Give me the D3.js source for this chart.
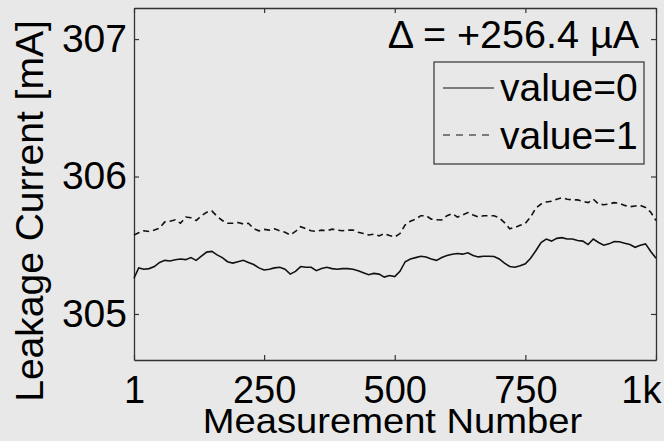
<!DOCTYPE html>
<html>
<head>
<meta charset="utf-8">
<script src="https://cdn.jsdelivr.net/npm/d3@7"></script>
<style>
  html, body { margin: 0; padding: 0; background: #e8e8e8; }
  svg { display: block; }
  text { font-family: "Liberation Sans", Arial, sans-serif; fill: #000; }
</style>
</head>
<body>
<svg id="chart" width="664" height="441"></svg>
<script>
// ---- data ----
const measurements = [1,10,20,30,40,50,60,70,80,90,100,110,120,130,140,150,160,170,180,190,200,210,220,230,240,250,260,270,280,290,300,310,320,330,340,350,360,370,380,390,400,410,420,430,440,450,460,470,480,490,500,510,520,530,540,550,560,570,580,590,600,610,620,630,640,650,660,670,680,690,700,710,720,730,740,750,760,770,780,790,800,810,820,830,840,850,860,870,880,890,900,910,920,930,940,950,960,970,980,990,1000];

const value0 = [305.26,305.335,305.325,305.33,305.345,305.375,305.39,305.385,305.395,305.40,305.395,305.41,305.39,305.42,305.45,305.455,305.43,305.41,305.38,305.37,305.38,305.39,305.375,305.36,305.335,305.32,305.325,305.335,305.34,305.325,305.29,305.31,305.345,305.34,305.34,305.315,305.33,305.34,305.33,305.325,305.33,305.33,305.325,305.315,305.30,305.285,305.295,305.29,305.268,305.28,305.272,305.31,305.38,305.40,305.41,305.42,305.415,305.40,305.39,305.41,305.425,305.435,305.44,305.435,305.445,305.425,305.415,305.42,305.42,305.418,305.40,305.37,305.345,305.34,305.35,305.365,305.405,305.46,305.52,305.545,305.53,305.55,305.555,305.545,305.545,305.535,305.53,305.505,305.545,305.52,305.50,305.51,305.527,305.525,305.515,305.505,305.485,305.50,305.51,305.455,305.405];

const value1 = [305.575,305.59,305.605,305.60,305.61,305.625,305.67,305.675,305.685,305.66,305.705,305.70,305.68,305.715,305.74,305.75,305.71,305.68,305.66,305.66,305.665,305.655,305.66,305.62,305.605,305.615,305.61,305.62,305.605,305.595,305.575,305.60,305.635,305.62,305.605,305.60,305.61,305.605,305.617,305.61,305.605,305.61,305.61,305.595,305.585,305.575,305.58,305.568,305.585,305.57,305.56,305.585,305.648,305.675,305.69,305.715,305.715,305.69,305.685,305.684,305.715,305.73,305.705,305.72,305.738,305.72,305.705,305.715,305.714,305.714,305.70,305.665,305.62,305.63,305.645,305.66,305.705,305.77,305.80,305.815,305.82,305.835,305.845,305.835,305.83,305.83,305.82,305.81,305.835,305.80,305.795,305.80,305.81,305.805,305.79,305.78,305.785,305.79,305.775,305.74,305.68];

const xTicks = [1, 250, 500, 750, 1000];
const xTickLabels = ["1", "250", "500", "750", "1k"];
const yTicks = [305, 306, 307];
const seriesNames = ["value=0", "value=1"];
const annotation = "\u0394 = +256.4 \u00B5A";
const xTitle = "Measurement Number";
const yTitle = "Leakage Current [mA]";

// ---- drawing ----
const svg = d3.select("#chart");
const W = 664, H = 441;
const plot = { left: 134, right: 656, top: 8, bottom: 360 };
const axisColor = "#333";

svg.append("rect").attr("width", W).attr("height", H).attr("fill", "#e8e8e8");

const x = d3.scaleLinear().domain([1, 1000]).range([plot.left, plot.right]);
const y = d3.scaleLinear().domain([304.665, 307.226]).range([plot.bottom, plot.top]);

function styleAxis(g) {
  g.selectAll("path.domain").attr("stroke", axisColor).attr("stroke-width", 1.3);
  g.selectAll(".tick line").attr("stroke", axisColor).attr("stroke-width", 1.2);
  g.selectAll("text").attr("font-family", "'Liberation Sans', Arial, sans-serif").attr("fill", "#000");
}

// bottom axis
const gx = svg.append("g").attr("transform", `translate(0,${plot.bottom})`)
  .call(d3.axisBottom(x).tickValues(xTicks)
    .tickFormat((d, i) => xTickLabels[i])
    .tickSizeInner(-5).tickSizeOuter(0).tickPadding(16));
gx.selectAll("text").attr("font-size", 38);
// last label ("1k") sits flush at the right edge, as in the reference
gx.selectAll(".tick").filter(d => d === 1000).select("text")
  .attr("text-anchor", "end").attr("dx", 5);
styleAxis(gx);

// top axis (box)
const gxt = svg.append("g").attr("transform", `translate(0,${plot.top})`)
  .call(d3.axisTop(x).tickValues(xTicks).tickFormat("").tickSizeInner(-5).tickSizeOuter(0));
styleAxis(gxt);

// left axis
const gy = svg.append("g").attr("transform", `translate(${plot.left},0)`)
  .call(d3.axisLeft(y).tickValues(yTicks).tickFormat(d3.format("d"))
    .tickSizeInner(-5).tickSizeOuter(0).tickPadding(7));
gy.selectAll("text").attr("font-size", 39);
styleAxis(gy);

// right axis (box)
const gyr = svg.append("g").attr("transform", `translate(${plot.right},0)`)
  .call(d3.axisRight(y).tickValues(yTicks).tickFormat("").tickSizeInner(-5).tickSizeOuter(0));
styleAxis(gyr);

// lines
const line = d3.line().x((d, i) => x(measurements[i])).y(d => y(d));
svg.append("path").datum(value0)
  .attr("d", line).attr("fill", "none").attr("stroke", "#111").attr("stroke-width", 1.6);
svg.append("path").datum(value1)
  .attr("d", line).attr("fill", "none").attr("stroke", "#111").attr("stroke-width", 1.6)
  .attr("stroke-dasharray", "6,4");

// axis titles
svg.append("text").attr("transform", "translate(392.5,433) scale(1.09,1)").attr("text-anchor", "middle")
  .attr("font-size", 35).text(xTitle);
svg.append("text").attr("transform", "translate(43,211) rotate(-90)").attr("text-anchor", "middle")
  .attr("font-size", 39).text(yTitle);

// annotation
svg.append("text").attr("x", 639).attr("y", 48).attr("text-anchor", "end")
  .attr("font-size", 39.5).text(annotation);

// legend
const leg = svg.append("g");
leg.append("rect").attr("x", 434).attr("y", 62).attr("width", 210).attr("height", 102)
  .attr("fill", "none").attr("stroke", axisColor).attr("stroke-width", 1.2);
const legRows = [{ y: 88, base: 101, dash: null }, { y: 135, base: 149, dash: "7,6" }];
legRows.forEach((r, i) => {
  const l = leg.append("line").attr("x1", 443).attr("x2", 494).attr("y1", r.y).attr("y2", r.y)
    .attr("stroke", "#111").attr("stroke-width", 1.2);
  if (r.dash) l.attr("stroke-dasharray", r.dash);
  leg.append("text").attr("x", 500).attr("y", r.base).attr("font-size", 39).text(seriesNames[i]);
});
</script>
</body>
</html>
